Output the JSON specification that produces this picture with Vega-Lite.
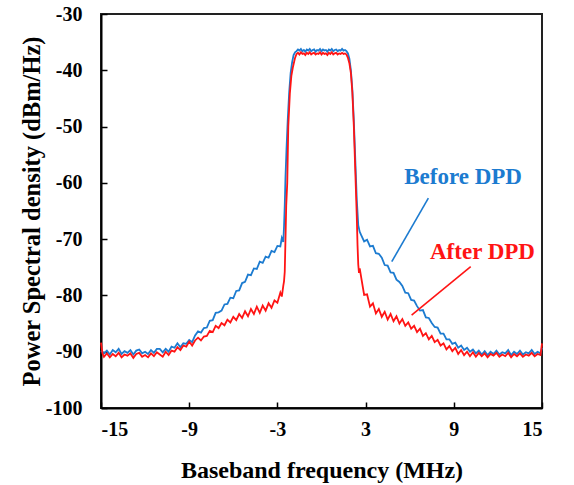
{
  "$schema": "https://vega.github.io/schema/vega-lite/v6.json",
  "width": 441,
  "height": 394,
  "autosize": "none",
  "padding": {"left": 101, "top": 14, "right": 32, "bottom": 77},
  "background": "white",
  "config": {
    "view": {"stroke": "#222222", "strokeWidth": 2},
    "axis": {
      "grid": false,
      "domainColor": "black",
      "domainWidth": 2,
      "tickColor": "black",
      "tickWidth": 1.5,
      "tickSize": -6,
      "labelFont": "Liberation Serif",
      "labelFontWeight": "bold",
      "labelFontSize": 20,
      "labelColor": "black",
      "labelExpr": "replace(datum.label, '−', '-')",
      "titleFont": "Liberation Serif",
      "titleFontWeight": "bold",
      "titleFontSize": 24,
      "titleColor": "black"
    }
  },
  "datasets": {
    "spectra": [
      {"s": "Before DPD", "f": -15.0, "p": -89.8},
      {"s": "Before DPD", "f": -14.8, "p": -90.3},
      {"s": "Before DPD", "f": -14.6, "p": -89.8},
      {"s": "Before DPD", "f": -14.4, "p": -90.5},
      {"s": "Before DPD", "f": -14.2, "p": -89.7},
      {"s": "Before DPD", "f": -14.0, "p": -90.1},
      {"s": "Before DPD", "f": -13.8, "p": -89.5},
      {"s": "Before DPD", "f": -13.6, "p": -90.4},
      {"s": "Before DPD", "f": -13.4, "p": -89.9},
      {"s": "Before DPD", "f": -13.2, "p": -90.2},
      {"s": "Before DPD", "f": -13.0, "p": -89.7},
      {"s": "Before DPD", "f": -12.8, "p": -90.5},
      {"s": "Before DPD", "f": -12.6, "p": -89.8},
      {"s": "Before DPD", "f": -12.4, "p": -89.6},
      {"s": "Before DPD", "f": -12.2, "p": -90.3},
      {"s": "Before DPD", "f": -12.0, "p": -90.0},
      {"s": "Before DPD", "f": -11.8, "p": -90.4},
      {"s": "Before DPD", "f": -11.6, "p": -89.7},
      {"s": "Before DPD", "f": -11.4, "p": -90.2},
      {"s": "Before DPD", "f": -11.2, "p": -89.5},
      {"s": "Before DPD", "f": -11.0, "p": -89.5},
      {"s": "Before DPD", "f": -10.8, "p": -90.1},
      {"s": "Before DPD", "f": -10.6, "p": -89.5},
      {"s": "Before DPD", "f": -10.4, "p": -90.0},
      {"s": "Before DPD", "f": -10.2, "p": -89.1},
      {"s": "Before DPD", "f": -10.0, "p": -89.3},
      {"s": "Before DPD", "f": -9.8, "p": -88.5},
      {"s": "Before DPD", "f": -9.6, "p": -89.2},
      {"s": "Before DPD", "f": -9.4, "p": -88.5},
      {"s": "Before DPD", "f": -9.2, "p": -88.6},
      {"s": "Before DPD", "f": -9.0, "p": -87.9},
      {"s": "Before DPD", "f": -8.8, "p": -88.3},
      {"s": "Before DPD", "f": -8.6, "p": -87.1},
      {"s": "Before DPD", "f": -8.4, "p": -86.4},
      {"s": "Before DPD", "f": -8.2, "p": -86.6},
      {"s": "Before DPD", "f": -8.0, "p": -85.8},
      {"s": "Before DPD", "f": -7.8, "p": -85.7},
      {"s": "Before DPD", "f": -7.6, "p": -84.5},
      {"s": "Before DPD", "f": -7.4, "p": -84.4},
      {"s": "Before DPD", "f": -7.2, "p": -83.1},
      {"s": "Before DPD", "f": -7.0, "p": -83.0},
      {"s": "Before DPD", "f": -6.8, "p": -82.7},
      {"s": "Before DPD", "f": -6.6, "p": -81.6},
      {"s": "Before DPD", "f": -6.4, "p": -81.5},
      {"s": "Before DPD", "f": -6.2, "p": -80.4},
      {"s": "Before DPD", "f": -6.0, "p": -80.5},
      {"s": "Before DPD", "f": -5.8, "p": -79.2},
      {"s": "Before DPD", "f": -5.6, "p": -79.1},
      {"s": "Before DPD", "f": -5.4, "p": -77.8},
      {"s": "Before DPD", "f": -5.2, "p": -77.6},
      {"s": "Before DPD", "f": -5.0, "p": -76.3},
      {"s": "Before DPD", "f": -4.8, "p": -76.4},
      {"s": "Before DPD", "f": -4.6, "p": -75.2},
      {"s": "Before DPD", "f": -4.4, "p": -75.3},
      {"s": "Before DPD", "f": -4.2, "p": -74.0},
      {"s": "Before DPD", "f": -4.0, "p": -74.2},
      {"s": "Before DPD", "f": -3.8, "p": -73.1},
      {"s": "Before DPD", "f": -3.6, "p": -73.3},
      {"s": "Before DPD", "f": -3.4, "p": -72.1},
      {"s": "Before DPD", "f": -3.2, "p": -72.3},
      {"s": "Before DPD", "f": -3.0, "p": -71.2},
      {"s": "Before DPD", "f": -2.8, "p": -71.3},
      {"s": "Before DPD", "f": -2.7, "p": -69.8},
      {"s": "Before DPD", "f": -2.6, "p": -70.5},
      {"s": "Before DPD", "f": -2.55, "p": -67.8},
      {"s": "Before DPD", "f": -2.5, "p": -64.0},
      {"s": "Before DPD", "f": -2.45, "p": -59.0},
      {"s": "Before DPD", "f": -2.38, "p": -54.0},
      {"s": "Before DPD", "f": -2.3, "p": -49.0},
      {"s": "Before DPD", "f": -2.2, "p": -44.0},
      {"s": "Before DPD", "f": -2.1, "p": -40.5},
      {"s": "Before DPD", "f": -2.0, "p": -38.6},
      {"s": "Before DPD", "f": -1.9, "p": -37.3},
      {"s": "Before DPD", "f": -1.8, "p": -36.8},
      {"s": "Before DPD", "f": -1.7, "p": -36.6},
      {"s": "Before DPD", "f": -1.6, "p": -36.3},
      {"s": "Before DPD", "f": -1.5, "p": -36.5},
      {"s": "Before DPD", "f": -1.4, "p": -36.2},
      {"s": "Before DPD", "f": -1.3, "p": -36.6},
      {"s": "Before DPD", "f": -1.2, "p": -36.4},
      {"s": "Before DPD", "f": -1.1, "p": -36.7},
      {"s": "Before DPD", "f": -1.0, "p": -36.3},
      {"s": "Before DPD", "f": -0.9, "p": -36.5},
      {"s": "Before DPD", "f": -0.8, "p": -36.2},
      {"s": "Before DPD", "f": -0.7, "p": -36.6},
      {"s": "Before DPD", "f": -0.6, "p": -36.4},
      {"s": "Before DPD", "f": -0.5, "p": -36.3},
      {"s": "Before DPD", "f": -0.4, "p": -36.7},
      {"s": "Before DPD", "f": -0.3, "p": -36.4},
      {"s": "Before DPD", "f": -0.2, "p": -36.5},
      {"s": "Before DPD", "f": -0.1, "p": -36.2},
      {"s": "Before DPD", "f": 0.0, "p": -36.6},
      {"s": "Before DPD", "f": 0.1, "p": -36.3},
      {"s": "Before DPD", "f": 0.2, "p": -36.5},
      {"s": "Before DPD", "f": 0.3, "p": -36.4},
      {"s": "Before DPD", "f": 0.4, "p": -36.7},
      {"s": "Before DPD", "f": 0.5, "p": -36.3},
      {"s": "Before DPD", "f": 0.6, "p": -36.5},
      {"s": "Before DPD", "f": 0.7, "p": -36.2},
      {"s": "Before DPD", "f": 0.8, "p": -36.6},
      {"s": "Before DPD", "f": 0.9, "p": -36.4},
      {"s": "Before DPD", "f": 1.0, "p": -36.3},
      {"s": "Before DPD", "f": 1.1, "p": -36.6},
      {"s": "Before DPD", "f": 1.2, "p": -36.4},
      {"s": "Before DPD", "f": 1.3, "p": -36.5},
      {"s": "Before DPD", "f": 1.4, "p": -36.2},
      {"s": "Before DPD", "f": 1.5, "p": -36.5},
      {"s": "Before DPD", "f": 1.6, "p": -36.4},
      {"s": "Before DPD", "f": 1.7, "p": -36.6},
      {"s": "Before DPD", "f": 1.8, "p": -37.0},
      {"s": "Before DPD", "f": 1.9, "p": -38.0},
      {"s": "Before DPD", "f": 2.0, "p": -40.0},
      {"s": "Before DPD", "f": 2.1, "p": -43.5},
      {"s": "Before DPD", "f": 2.2, "p": -49.0},
      {"s": "Before DPD", "f": 2.3, "p": -56.0},
      {"s": "Before DPD", "f": 2.4, "p": -63.0},
      {"s": "Before DPD", "f": 2.5, "p": -67.5},
      {"s": "Before DPD", "f": 2.6, "p": -68.7},
      {"s": "Before DPD", "f": 2.7, "p": -69.3},
      {"s": "Before DPD", "f": 2.9, "p": -70.4},
      {"s": "Before DPD", "f": 3.1, "p": -70.1},
      {"s": "Before DPD", "f": 3.3, "p": -71.3},
      {"s": "Before DPD", "f": 3.5, "p": -71.2},
      {"s": "Before DPD", "f": 3.7, "p": -72.5},
      {"s": "Before DPD", "f": 3.9, "p": -72.6},
      {"s": "Before DPD", "f": 4.1, "p": -73.3},
      {"s": "Before DPD", "f": 4.3, "p": -74.6},
      {"s": "Before DPD", "f": 4.5, "p": -74.7},
      {"s": "Before DPD", "f": 4.7, "p": -75.9},
      {"s": "Before DPD", "f": 4.9, "p": -76.0},
      {"s": "Before DPD", "f": 5.1, "p": -77.2},
      {"s": "Before DPD", "f": 5.3, "p": -77.6},
      {"s": "Before DPD", "f": 5.5, "p": -78.3},
      {"s": "Before DPD", "f": 5.7, "p": -79.5},
      {"s": "Before DPD", "f": 5.9, "p": -79.6},
      {"s": "Before DPD", "f": 6.1, "p": -80.8},
      {"s": "Before DPD", "f": 6.3, "p": -80.9},
      {"s": "Before DPD", "f": 6.5, "p": -81.9},
      {"s": "Before DPD", "f": 6.7, "p": -82.7},
      {"s": "Before DPD", "f": 6.9, "p": -82.6},
      {"s": "Before DPD", "f": 7.1, "p": -83.9},
      {"s": "Before DPD", "f": 7.3, "p": -84.0},
      {"s": "Before DPD", "f": 7.5, "p": -84.9},
      {"s": "Before DPD", "f": 7.7, "p": -85.6},
      {"s": "Before DPD", "f": 7.9, "p": -85.7},
      {"s": "Before DPD", "f": 8.1, "p": -86.8},
      {"s": "Before DPD", "f": 8.3, "p": -86.8},
      {"s": "Before DPD", "f": 8.5, "p": -87.8},
      {"s": "Before DPD", "f": 8.7, "p": -87.8},
      {"s": "Before DPD", "f": 8.9, "p": -88.6},
      {"s": "Before DPD", "f": 9.1, "p": -88.4},
      {"s": "Before DPD", "f": 9.3, "p": -89.3},
      {"s": "Before DPD", "f": 9.5, "p": -88.9},
      {"s": "Before DPD", "f": 9.7, "p": -89.7},
      {"s": "Before DPD", "f": 9.9, "p": -89.3},
      {"s": "Before DPD", "f": 10.1, "p": -90.0},
      {"s": "Before DPD", "f": 10.3, "p": -89.6},
      {"s": "Before DPD", "f": 10.5, "p": -90.3},
      {"s": "Before DPD", "f": 10.7, "p": -89.8},
      {"s": "Before DPD", "f": 10.9, "p": -90.5},
      {"s": "Before DPD", "f": 11.1, "p": -89.9},
      {"s": "Before DPD", "f": 11.3, "p": -90.6},
      {"s": "Before DPD", "f": 11.5, "p": -90.0},
      {"s": "Before DPD", "f": 11.7, "p": -90.4},
      {"s": "Before DPD", "f": 11.9, "p": -89.8},
      {"s": "Before DPD", "f": 12.1, "p": -90.5},
      {"s": "Before DPD", "f": 12.3, "p": -90.1},
      {"s": "Before DPD", "f": 12.5, "p": -90.3},
      {"s": "Before DPD", "f": 12.7, "p": -89.7},
      {"s": "Before DPD", "f": 12.9, "p": -90.6},
      {"s": "Before DPD", "f": 13.1, "p": -90.0},
      {"s": "Before DPD", "f": 13.3, "p": -90.4},
      {"s": "Before DPD", "f": 13.5, "p": -89.8},
      {"s": "Before DPD", "f": 13.7, "p": -90.5},
      {"s": "Before DPD", "f": 13.9, "p": -90.1},
      {"s": "Before DPD", "f": 14.1, "p": -90.3},
      {"s": "Before DPD", "f": 14.3, "p": -89.7},
      {"s": "Before DPD", "f": 14.5, "p": -90.4},
      {"s": "Before DPD", "f": 14.7, "p": -90.0},
      {"s": "Before DPD", "f": 14.9, "p": -90.3},
      {"s": "Before DPD", "f": 15.0, "p": -89.3},

      {"s": "After DPD", "f": -15.0, "p": -88.4},
      {"s": "After DPD", "f": -14.9, "p": -90.3},
      {"s": "After DPD", "f": -14.8, "p": -90.9},
      {"s": "After DPD", "f": -14.6, "p": -90.3},
      {"s": "After DPD", "f": -14.4, "p": -91.0},
      {"s": "After DPD", "f": -14.2, "p": -90.4},
      {"s": "After DPD", "f": -14.0, "p": -90.8},
      {"s": "After DPD", "f": -13.8, "p": -90.2},
      {"s": "After DPD", "f": -13.6, "p": -91.0},
      {"s": "After DPD", "f": -13.4, "p": -90.5},
      {"s": "After DPD", "f": -13.2, "p": -90.7},
      {"s": "After DPD", "f": -13.0, "p": -90.3},
      {"s": "After DPD", "f": -12.8, "p": -91.1},
      {"s": "After DPD", "f": -12.6, "p": -90.4},
      {"s": "After DPD", "f": -12.4, "p": -90.2},
      {"s": "After DPD", "f": -12.2, "p": -90.9},
      {"s": "After DPD", "f": -12.0, "p": -90.6},
      {"s": "After DPD", "f": -11.8, "p": -91.0},
      {"s": "After DPD", "f": -11.6, "p": -90.3},
      {"s": "After DPD", "f": -11.4, "p": -90.8},
      {"s": "After DPD", "f": -11.2, "p": -90.1},
      {"s": "After DPD", "f": -11.0, "p": -90.5},
      {"s": "After DPD", "f": -10.8, "p": -90.9},
      {"s": "After DPD", "f": -10.6, "p": -90.0},
      {"s": "After DPD", "f": -10.4, "p": -90.6},
      {"s": "After DPD", "f": -10.2, "p": -89.8},
      {"s": "After DPD", "f": -10.0, "p": -90.0},
      {"s": "After DPD", "f": -9.8, "p": -89.2},
      {"s": "After DPD", "f": -9.6, "p": -89.7},
      {"s": "After DPD", "f": -9.4, "p": -88.9},
      {"s": "After DPD", "f": -9.2, "p": -89.1},
      {"s": "After DPD", "f": -9.0, "p": -88.2},
      {"s": "After DPD", "f": -8.8, "p": -88.9},
      {"s": "After DPD", "f": -8.6, "p": -88.0},
      {"s": "After DPD", "f": -8.4, "p": -87.5},
      {"s": "After DPD", "f": -8.2, "p": -88.0},
      {"s": "After DPD", "f": -8.0, "p": -87.3},
      {"s": "After DPD", "f": -7.8, "p": -87.2},
      {"s": "After DPD", "f": -7.6, "p": -86.3},
      {"s": "After DPD", "f": -7.4, "p": -86.5},
      {"s": "After DPD", "f": -7.2, "p": -85.4},
      {"s": "After DPD", "f": -7.0, "p": -85.8},
      {"s": "After DPD", "f": -6.8, "p": -84.9},
      {"s": "After DPD", "f": -6.6, "p": -85.3},
      {"s": "After DPD", "f": -6.4, "p": -84.3},
      {"s": "After DPD", "f": -6.2, "p": -84.8},
      {"s": "After DPD", "f": -6.0, "p": -83.8},
      {"s": "After DPD", "f": -5.8, "p": -84.4},
      {"s": "After DPD", "f": -5.6, "p": -83.3},
      {"s": "After DPD", "f": -5.4, "p": -84.0},
      {"s": "After DPD", "f": -5.2, "p": -82.8},
      {"s": "After DPD", "f": -5.0, "p": -83.7},
      {"s": "After DPD", "f": -4.8, "p": -82.4},
      {"s": "After DPD", "f": -4.6, "p": -83.3},
      {"s": "After DPD", "f": -4.4, "p": -82.0},
      {"s": "After DPD", "f": -4.2, "p": -83.1},
      {"s": "After DPD", "f": -4.0, "p": -81.8},
      {"s": "After DPD", "f": -3.8, "p": -82.7},
      {"s": "After DPD", "f": -3.6, "p": -81.4},
      {"s": "After DPD", "f": -3.4, "p": -82.2},
      {"s": "After DPD", "f": -3.2, "p": -80.9},
      {"s": "After DPD", "f": -3.0, "p": -81.3},
      {"s": "After DPD", "f": -2.8, "p": -79.5},
      {"s": "After DPD", "f": -2.7, "p": -80.2},
      {"s": "After DPD", "f": -2.6, "p": -78.3},
      {"s": "After DPD", "f": -2.55, "p": -77.5},
      {"s": "After DPD", "f": -2.5, "p": -75.8},
      {"s": "After DPD", "f": -2.45, "p": -70.0},
      {"s": "After DPD", "f": -2.4, "p": -64.0},
      {"s": "After DPD", "f": -2.33, "p": -60.0},
      {"s": "After DPD", "f": -2.26, "p": -50.0},
      {"s": "After DPD", "f": -2.15, "p": -44.0},
      {"s": "After DPD", "f": -2.05, "p": -41.0},
      {"s": "After DPD", "f": -1.95, "p": -39.5},
      {"s": "After DPD", "f": -1.8, "p": -37.8},
      {"s": "After DPD", "f": -1.7, "p": -37.1},
      {"s": "After DPD", "f": -1.6, "p": -36.9},
      {"s": "After DPD", "f": -1.5, "p": -37.2},
      {"s": "After DPD", "f": -1.4, "p": -36.8},
      {"s": "After DPD", "f": -1.3, "p": -37.1},
      {"s": "After DPD", "f": -1.2, "p": -37.0},
      {"s": "After DPD", "f": -1.1, "p": -37.3},
      {"s": "After DPD", "f": -1.0, "p": -36.9},
      {"s": "After DPD", "f": -0.9, "p": -37.1},
      {"s": "After DPD", "f": -0.8, "p": -36.8},
      {"s": "After DPD", "f": -0.7, "p": -37.2},
      {"s": "After DPD", "f": -0.6, "p": -37.0},
      {"s": "After DPD", "f": -0.5, "p": -36.9},
      {"s": "After DPD", "f": -0.4, "p": -37.2},
      {"s": "After DPD", "f": -0.3, "p": -37.0},
      {"s": "After DPD", "f": -0.2, "p": -37.1},
      {"s": "After DPD", "f": -0.1, "p": -36.8},
      {"s": "After DPD", "f": 0.0, "p": -37.2},
      {"s": "After DPD", "f": 0.1, "p": -36.9},
      {"s": "After DPD", "f": 0.2, "p": -37.1},
      {"s": "After DPD", "f": 0.3, "p": -37.0},
      {"s": "After DPD", "f": 0.4, "p": -37.3},
      {"s": "After DPD", "f": 0.5, "p": -36.9},
      {"s": "After DPD", "f": 0.6, "p": -37.1},
      {"s": "After DPD", "f": 0.7, "p": -36.8},
      {"s": "After DPD", "f": 0.8, "p": -37.2},
      {"s": "After DPD", "f": 0.9, "p": -37.0},
      {"s": "After DPD", "f": 1.0, "p": -36.9},
      {"s": "After DPD", "f": 1.1, "p": -37.2},
      {"s": "After DPD", "f": 1.2, "p": -37.0},
      {"s": "After DPD", "f": 1.3, "p": -37.1},
      {"s": "After DPD", "f": 1.4, "p": -36.9},
      {"s": "After DPD", "f": 1.5, "p": -37.1},
      {"s": "After DPD", "f": 1.6, "p": -37.0},
      {"s": "After DPD", "f": 1.7, "p": -37.2},
      {"s": "After DPD", "f": 1.8, "p": -37.8},
      {"s": "After DPD", "f": 1.9, "p": -38.8},
      {"s": "After DPD", "f": 2.0, "p": -40.5},
      {"s": "After DPD", "f": 2.1, "p": -44.0},
      {"s": "After DPD", "f": 2.2, "p": -50.0},
      {"s": "After DPD", "f": 2.3, "p": -58.0},
      {"s": "After DPD", "f": 2.4, "p": -66.0},
      {"s": "After DPD", "f": 2.45, "p": -71.0},
      {"s": "After DPD", "f": 2.5, "p": -74.5},
      {"s": "After DPD", "f": 2.55, "p": -76.0},
      {"s": "After DPD", "f": 2.6, "p": -75.2},
      {"s": "After DPD", "f": 2.7, "p": -76.8},
      {"s": "After DPD", "f": 2.9, "p": -79.9},
      {"s": "After DPD", "f": 3.1, "p": -79.8},
      {"s": "After DPD", "f": 3.3, "p": -82.0},
      {"s": "After DPD", "f": 3.5, "p": -81.4},
      {"s": "After DPD", "f": 3.7, "p": -83.2},
      {"s": "After DPD", "f": 3.9, "p": -82.4},
      {"s": "After DPD", "f": 4.1, "p": -83.8},
      {"s": "After DPD", "f": 4.3, "p": -82.9},
      {"s": "After DPD", "f": 4.5, "p": -84.3},
      {"s": "After DPD", "f": 4.7, "p": -83.3},
      {"s": "After DPD", "f": 4.9, "p": -84.6},
      {"s": "After DPD", "f": 5.1, "p": -83.7},
      {"s": "After DPD", "f": 5.3, "p": -85.0},
      {"s": "After DPD", "f": 5.5, "p": -84.2},
      {"s": "After DPD", "f": 5.7, "p": -85.4},
      {"s": "After DPD", "f": 5.9, "p": -84.8},
      {"s": "After DPD", "f": 6.1, "p": -85.9},
      {"s": "After DPD", "f": 6.3, "p": -85.4},
      {"s": "After DPD", "f": 6.5, "p": -86.5},
      {"s": "After DPD", "f": 6.7, "p": -85.9},
      {"s": "After DPD", "f": 6.9, "p": -87.2},
      {"s": "After DPD", "f": 7.1, "p": -86.7},
      {"s": "After DPD", "f": 7.3, "p": -87.8},
      {"s": "After DPD", "f": 7.5, "p": -87.2},
      {"s": "After DPD", "f": 7.7, "p": -88.3},
      {"s": "After DPD", "f": 7.9, "p": -87.9},
      {"s": "After DPD", "f": 8.1, "p": -88.9},
      {"s": "After DPD", "f": 8.3, "p": -88.5},
      {"s": "After DPD", "f": 8.5, "p": -89.6},
      {"s": "After DPD", "f": 8.7, "p": -89.0},
      {"s": "After DPD", "f": 8.9, "p": -89.9},
      {"s": "After DPD", "f": 9.1, "p": -89.3},
      {"s": "After DPD", "f": 9.3, "p": -90.4},
      {"s": "After DPD", "f": 9.5, "p": -89.7},
      {"s": "After DPD", "f": 9.7, "p": -90.6},
      {"s": "After DPD", "f": 9.9, "p": -90.0},
      {"s": "After DPD", "f": 10.1, "p": -90.8},
      {"s": "After DPD", "f": 10.3, "p": -90.1},
      {"s": "After DPD", "f": 10.5, "p": -90.9},
      {"s": "After DPD", "f": 10.7, "p": -90.2},
      {"s": "After DPD", "f": 10.9, "p": -90.8},
      {"s": "After DPD", "f": 11.1, "p": -90.3},
      {"s": "After DPD", "f": 11.3, "p": -91.0},
      {"s": "After DPD", "f": 11.5, "p": -90.4},
      {"s": "After DPD", "f": 11.7, "p": -90.7},
      {"s": "After DPD", "f": 11.9, "p": -90.2},
      {"s": "After DPD", "f": 12.1, "p": -90.9},
      {"s": "After DPD", "f": 12.3, "p": -90.5},
      {"s": "After DPD", "f": 12.5, "p": -90.8},
      {"s": "After DPD", "f": 12.7, "p": -90.2},
      {"s": "After DPD", "f": 12.9, "p": -91.0},
      {"s": "After DPD", "f": 13.1, "p": -90.4},
      {"s": "After DPD", "f": 13.3, "p": -90.8},
      {"s": "After DPD", "f": 13.5, "p": -90.3},
      {"s": "After DPD", "f": 13.7, "p": -90.9},
      {"s": "After DPD", "f": 13.9, "p": -90.5},
      {"s": "After DPD", "f": 14.1, "p": -90.7},
      {"s": "After DPD", "f": 14.3, "p": -90.2},
      {"s": "After DPD", "f": 14.5, "p": -90.8},
      {"s": "After DPD", "f": 14.7, "p": -90.4},
      {"s": "After DPD", "f": 14.9, "p": -90.6},
      {"s": "After DPD", "f": 15.0, "p": -88.5}
    ],
    "callouts": [
      {"s": "Before DPD", "tx": 9.63, "ty": -59.0, "x1": 7.27, "y1": -62.7, "x2": 4.78, "y2": -74.0},
      {"s": "After DPD", "tx": 10.95, "ty": -72.2, "x1": 10.15, "y1": -74.9, "x2": 6.13, "y2": -83.5}
    ]
  },
  "layer": [
    {
      "data": {"name": "spectra"},
      "transform": [{"filter": "datum.s === 'Before DPD'"}],
      "mark": {"type": "line", "strokeWidth": 1.8, "interpolate": "linear"},
      "encoding": {
        "x": {
          "field": "f", "type": "quantitative",
          "scale": {"domain": [-15, 15], "nice": false, "zero": false},
          "axis": {"title": "Baseband frequency (MHz)", "values": [-15, -9, -3, 3, 9, 15], "labelPadding": 17, "titlePadding": 19}
        },
        "y": {
          "field": "p", "type": "quantitative",
          "scale": {"domain": [-100, -30], "nice": false, "zero": false},
          "axis": {"title": "Power Spectral density (dBm/Hz)", "titleFontSize": 24.5, "values": [-100, -90, -80, -70, -60, -50, -40, -30], "labelPadding": 25, "titlePadding": 1}
        },
        "color": {
          "field": "s", "type": "nominal",
          "scale": {"domain": ["Before DPD", "After DPD"], "range": ["#1c7bd0", "#ff1414"]},
          "legend": null
        },
        "order": {"field": "f", "type": "quantitative"}
      }
    },
    {
      "data": {"name": "spectra"},
      "transform": [{"filter": "datum.s === 'After DPD'"}],
      "mark": {"type": "line", "strokeWidth": 1.8, "interpolate": "linear"},
      "encoding": {
        "x": {"field": "f", "type": "quantitative"},
        "y": {"field": "p", "type": "quantitative"},
        "color": {"field": "s", "type": "nominal", "legend": null},
        "order": {"field": "f", "type": "quantitative"}
      }
    },
    {
      "data": {"name": "callouts"},
      "mark": {"type": "rule", "strokeWidth": 1.6},
      "encoding": {
        "x": {"field": "x1", "type": "quantitative"},
        "y": {"field": "y1", "type": "quantitative"},
        "x2": {"field": "x2"},
        "y2": {"field": "y2"},
        "color": {"field": "s", "type": "nominal", "legend": null}
      }
    },
    {
      "data": {"name": "callouts"},
      "mark": {"type": "text", "font": "Liberation Serif", "fontWeight": "bold", "fontSize": 23, "align": "center", "baseline": "middle"},
      "encoding": {
        "x": {"field": "tx", "type": "quantitative"},
        "y": {"field": "ty", "type": "quantitative"},
        "text": {"field": "s"},
        "color": {"field": "s", "type": "nominal", "legend": null}
      }
    }
  ]
}
